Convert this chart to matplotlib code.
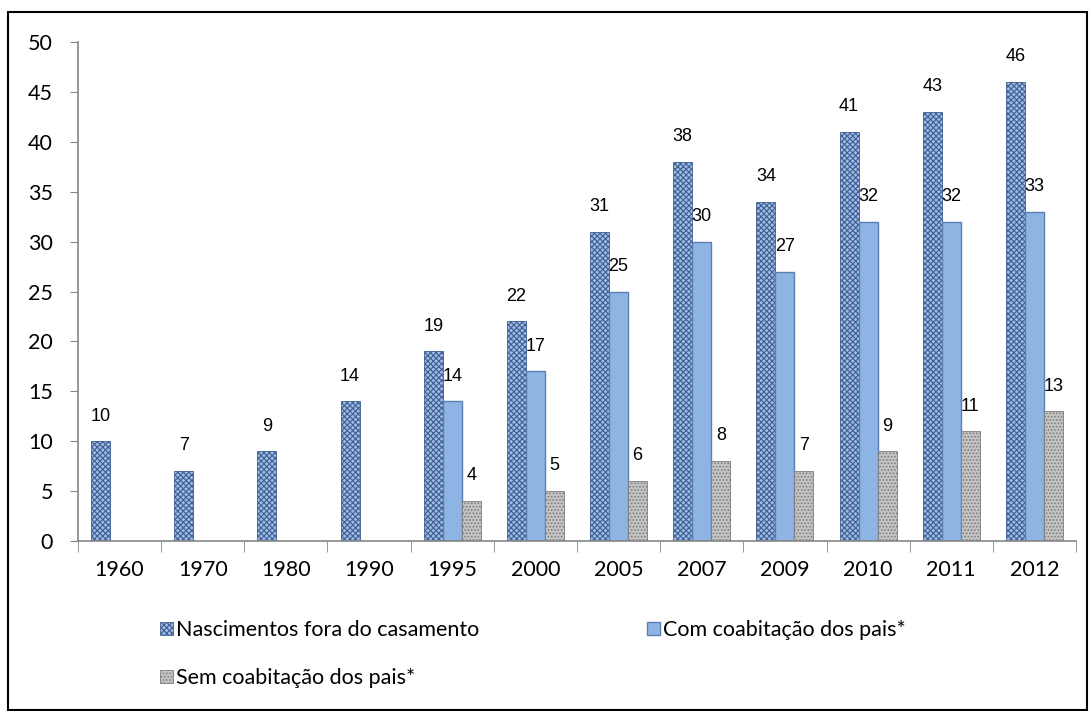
import matplotlib.pyplot as plt
import matplotlib.patches as patches
import numpy as np

years = ['1960', '1970', '1980', '1990', '1995', '2000', '2005', '2007', '2009', '2010', '2011', '2012']
fora_casamento = [10, 7, 9, 14, 19, 22, 31, 38, 34, 41, 43, 46]
com_coabitacao = [None, None, None, None, 14, 17, 25, 30, 27, 32, 32, 33]
sem_coabitacao = [None, None, None, None, 4, 5, 6, 8, 7, 9, 11, 13]

series_names = ['Nascimentos fora do casamento', 'Com coabitação dos pais*', 'Sem coabitação dos pais*']

plt.rcParams['hatch.linewidth'] = 0.8
tick_font = ['Lato', 'DejaVu Sans']
label_font = ['Liberation Sans Narrow', 'Liberation Sans', 'DejaVu Sans']

fig = plt.figure(figsize=(10.89, 7.11), dpi=100)
ax = fig.add_axes([78 / 1089, 1 - 541 / 711, (1076 - 78) / 1089, (541 - 42) / 711])

x = np.arange(len(years))
w = 0.229
styles = [
    dict(color='#9dbbe8', edgecolor='#3f5f8f', hatch='xxxxxx', lw=0.6),
    dict(color='#8db4e2', edgecolor='#5a7fb5', hatch=None, lw=1.0),
    dict(color='#c4c4c4', edgecolor='#7d7d7d', hatch='.....', lw=0.6),
]
all_series = [fora_casamento, com_coabitacao, sem_coabitacao]

handles = []
for i, (vals, st, name) in enumerate(zip(all_series, styles, series_names)):
    xs = [xi + (i - 1) * w for xi, v in zip(x, vals) if v is not None]
    vs = [v for v in vals if v is not None]
    bars = ax.bar(xs, vs, w, facecolor=st['color'], edgecolor=st['edgecolor'],
                  hatch=st['hatch'], linewidth=st['lw'], label=name)
    handles.append(bars)
    for b, v in zip(bars, vs):
        ax.annotate(str(v), (b.get_x() + b.get_width() / 2, v), xytext=(0, 12),
                    textcoords='offset points', ha='center', va='bottom',
                    fontsize=13, family=label_font)

ax.set_xlim(-0.5, len(years) - 0.5)
ax.set_ylim(0, 50)
ax.set_yticks(range(0, 51, 5))
ax.set_xticks(x)
ax.set_xticklabels(years)
ax.set_xticks(np.arange(-0.5, len(years), 1), minor=True)
ax.tick_params(axis='x', which='major', length=0, pad=14)
ax.tick_params(axis='x', which='minor', length=8, color='#868686')
ax.tick_params(axis='y', length=6, color='#868686', pad=12)
for lab in ax.get_xticklabels() + ax.get_yticklabels():
    lab.set_fontsize(15.5)
    lab.set_family(tick_font)

for s in ['top', 'right']:
    ax.spines[s].set_visible(False)
for s in ['left', 'bottom']:
    ax.spines[s].set_color('#868686')
    ax.spines[s].set_linewidth(1.2)

# legend fills column-first, so order is fora, sem | com
order = [0, 2, 1]
fig.legend([handles[k] for k in order], [series_names[k] for k in order],
           loc='upper left', bbox_to_anchor=(160 / 1089, 1 - 620 / 711), ncol=2,
           frameon=False, prop={'family': tick_font, 'size': 15.5},
           borderpad=0, borderaxespad=0,
           handlelength=0.6, handleheight=0.6, handletextpad=0.15,
           columnspacing=7.8, labelspacing=1.3)

fig.patches.append(patches.Rectangle((8 / 1089, 1 / 711), 1079 / 1089, 698 / 711,
                                     transform=fig.transFigure, fill=False,
                                     edgecolor='black', linewidth=1.5))

fig.savefig('out.png', dpi=100)
